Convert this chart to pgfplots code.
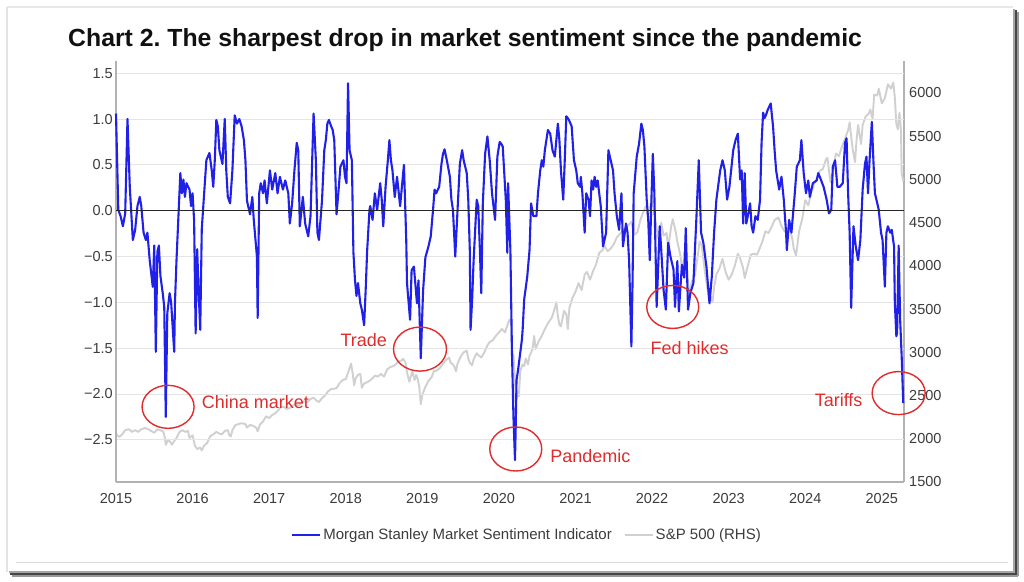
\documentclass[border=0pt]{standalone}
\usepackage{pgfplots}
\pgfplotsset{compat=1.18}
\usepackage{pgfplotstable}
\usepackage{fontspec}
\setmainfont{Liberation Sans}
\frenchspacing

\definecolor{msblue}{RGB}{32,32,232}
\definecolor{spgray}{RGB}{208,208,208}
\definecolor{gridcol}{RGB}{228,228,228}
\definecolor{axiscol}{RGB}{178,178,178}
\definecolor{tickcol}{RGB}{60,60,60}
\definecolor{legcol}{RGB}{60,60,60}
\definecolor{annot}{RGB}{224,44,44}
\definecolor{titlecol}{RGB}{17,17,17}

\newcommand\tickfont{\fontsize{14.5}{16}\selectfont}

% Morgan Stanley Market Sentiment Indicator (left axis)
\pgfplotstableread{
t v
2015.00 1.06
2015.03 0.01
2015.06 -0.06
2015.09 -0.17
2015.12 -0.03
2015.15 1.00
2015.18 0.26
2015.22 -0.32
2015.25 -0.21
2015.28 0.05
2015.31 0.15
2015.33 0.05
2015.36 -0.24
2015.39 -0.32
2015.41 -0.24
2015.44 -0.54
2015.48 -0.83
2015.50 -0.38
2015.52 -1.54
2015.54 -0.45
2015.56 -0.38
2015.58 -0.71
2015.61 -0.90
2015.63 -1.05
2015.65 -2.25
2015.67 -1.12
2015.70 -0.90
2015.72 -1.00
2015.76 -1.54
2015.77 -1.00
2015.79 -0.54
2015.84 0.41
2015.86 0.19
2015.88 0.34
2015.90 0.15
2015.92 0.30
2015.96 0.23
2015.98 0.05
2016.00 0.19
2016.02 -0.11
2016.04 -1.34
2016.06 -0.42
2016.08 -0.90
2016.10 -1.30
2016.12 -0.20
2016.18 0.55
2016.22 0.63
2016.25 0.44
2016.27 0.26
2016.29 0.55
2016.31 0.99
2016.33 0.92
2016.35 0.66
2016.39 0.51
2016.42 1.00
2016.44 0.44
2016.46 0.15
2016.49 0.08
2016.52 0.44
2016.55 1.04
2016.58 0.95
2016.61 1.00
2016.64 0.92
2016.67 0.77
2016.69 0.55
2016.71 0.11
2016.75 -0.04
2016.78 0.15
2016.80 -0.11
2016.84 -0.50
2016.85 -1.17
2016.87 0.19
2016.89 0.30
2016.92 0.19
2016.94 0.33
2016.97 0.08
2017.01 0.44
2017.04 0.23
2017.08 0.41
2017.11 0.19
2017.14 0.37
2017.18 0.23
2017.21 0.33
2017.25 0.19
2017.27 -0.14
2017.30 0.08
2017.33 0.44
2017.36 0.74
2017.38 0.66
2017.40 -0.17
2017.44 0.15
2017.47 -0.14
2017.51 -0.28
2017.54 -0.06
2017.58 1.06
2017.61 0.55
2017.63 -0.24
2017.65 -0.32
2017.69 0.11
2017.72 0.66
2017.74 0.77
2017.76 0.95
2017.78 0.99
2017.81 0.92
2017.83 0.88
2017.85 0.77
2017.88 -0.04
2017.91 0.26
2017.93 0.48
2017.97 0.55
2017.99 0.37
2018.01 0.30
2018.03 1.39
2018.05 0.66
2018.08 0.55
2018.10 -0.45
2018.12 -0.75
2018.14 -0.93
2018.16 -0.79
2018.19 -1.01
2018.21 -1.08
2018.24 -1.25
2018.26 -0.87
2018.28 -0.43
2018.31 0.01
2018.32 0.05
2018.35 -0.10
2018.38 0.19
2018.41 0.01
2018.45 0.30
2018.47 0.12
2018.49 -0.17
2018.52 0.26
2018.55 0.55
2018.57 0.77
2018.59 0.55
2018.61 0.44
2018.64 0.15
2018.67 0.37
2018.71 0.05
2018.73 0.23
2018.76 0.50
2018.79 -0.32
2018.80 -0.79
2018.84 -1.19
2018.86 -0.65
2018.89 -0.61
2018.93 -1.01
2018.95 -0.76
2018.98 -1.61
2019.01 -0.87
2019.04 -0.51
2019.08 -0.39
2019.11 -0.28
2019.14 0.01
2019.16 0.23
2019.18 0.19
2019.22 0.26
2019.25 0.51
2019.27 0.62
2019.29 0.67
2019.32 0.55
2019.36 0.37
2019.38 0.12
2019.40 0.01
2019.43 -0.50
2019.46 0.01
2019.49 0.51
2019.52 0.66
2019.54 0.55
2019.58 0.41
2019.60 0.12
2019.62 -0.43
2019.63 -1.30
2019.65 -0.98
2019.67 -0.54
2019.71 0.12
2019.73 0.05
2019.75 -0.39
2019.77 -0.90
2019.79 0.08
2019.82 0.62
2019.85 0.81
2019.88 0.55
2019.91 0.19
2019.95 -0.10
2019.98 0.59
2020.01 0.75
2020.03 0.73
2020.05 0.70
2020.09 0.12
2020.11 -0.46
2020.12 0.30
2020.15 -0.43
2020.17 -1.52
2020.19 -2.25
2020.21 -2.72
2020.22 -2.35
2020.23 -1.85
2020.25 -1.74
2020.30 -1.41
2020.31 -1.30
2020.33 -0.97
2020.37 -0.72
2020.40 -0.43
2020.42 0.08
2020.45 -0.06
2020.49 -0.06
2020.51 0.19
2020.54 0.44
2020.56 0.55
2020.58 0.48
2020.60 0.66
2020.62 0.77
2020.64 0.88
2020.67 0.84
2020.70 0.66
2020.73 0.59
2020.75 0.77
2020.77 0.95
2020.79 0.77
2020.81 0.44
2020.84 0.12
2020.86 0.55
2020.88 1.03
2020.90 1.01
2020.92 0.98
2020.95 0.92
2020.98 0.55
2021.01 0.44
2021.03 0.30
2021.06 0.26
2021.07 0.37
2021.09 0.19
2021.12 -0.24
2021.14 0.19
2021.17 0.12
2021.19 -0.06
2021.21 0.33
2021.23 0.23
2021.25 0.37
2021.27 0.26
2021.29 0.33
2021.33 0.05
2021.36 -0.39
2021.40 -0.24
2021.43 0.66
2021.46 0.55
2021.49 0.44
2021.51 0.19
2021.54 -0.06
2021.57 -0.21
2021.60 0.19
2021.62 -0.39
2021.66 -0.14
2021.68 -0.24
2021.70 -0.54
2021.73 -1.48
2021.745 -0.79
2021.76 0.19
2021.80 0.59
2021.83 0.73
2021.86 0.95
2021.88 0.88
2021.90 0.70
2021.93 0.12
2021.95 -0.10
2021.97 -0.54
2021.99 0.08
2022.01 0.62
2022.03 0.19
2022.06 -1.05
2022.10 -0.17
2022.12 -0.43
2022.15 -0.86
2022.18 -1.08
2022.21 -0.35
2022.24 -0.50
2022.28 -0.64
2022.30 -1.05
2022.33 -0.55
2022.35 -1.10
2022.39 -0.59
2022.42 -0.73
2022.44 -0.19
2022.47 -1.08
2022.50 -0.90
2022.54 -0.79
2022.58 -0.06
2022.61 0.55
2022.64 -0.24
2022.67 -0.35
2022.71 -0.61
2022.75 -1.01
2022.78 -0.72
2022.81 -0.24
2022.84 0.12
2022.89 0.44
2022.92 0.55
2022.95 0.44
2022.98 0.12
2023.01 0.26
2023.06 0.66
2023.09 0.77
2023.12 0.84
2023.15 0.34
2023.17 0.44
2023.19 -0.14
2023.21 0.41
2023.23 -0.14
2023.25 -0.06
2023.28 0.08
2023.30 -0.17
2023.32 -0.24
2023.35 -0.06
2023.38 -0.10
2023.41 0.12
2023.43 0.74
2023.45 1.07
2023.47 1.01
2023.49 1.05
2023.51 1.10
2023.55 1.17
2023.56 1.08
2023.58 0.92
2023.60 0.66
2023.62 0.44
2023.66 0.23
2023.69 0.37
2023.72 0.12
2023.75 -0.24
2023.76 -0.43
2023.79 -0.10
2023.82 -0.24
2023.86 0.15
2023.89 0.48
2023.93 0.55
2023.95 0.77
2023.98 0.41
2024.01 0.19
2024.04 0.33
2024.06 0.15
2024.10 0.30
2024.15 0.33
2024.17 0.41
2024.19 0.37
2024.24 0.26
2024.28 0.12
2024.31 -0.03
2024.34 0.01
2024.36 0.48
2024.39 0.55
2024.42 0.26
2024.45 0.26
2024.49 0.30
2024.52 0.74
2024.54 0.79
2024.56 0.19
2024.58 -0.24
2024.60 -1.06
2024.63 -0.17
2024.66 -0.39
2024.69 -0.54
2024.72 -0.32
2024.75 0.23
2024.78 0.51
2024.80 0.59
2024.82 0.19
2024.84 0.55
2024.87 0.97
2024.89 0.55
2024.91 0.19
2024.93 0.12
2024.96 0.01
2024.99 -0.24
2025.01 -0.32
2025.04 -0.83
2025.06 -0.24
2025.08 -0.17
2025.11 -0.24
2025.13 -0.21
2025.16 -0.39
2025.17 -1.00
2025.19 -1.37
2025.20 -1.33
2025.22 -0.38
2025.24 -1.20
2025.26 -1.60
2025.28 -2.10
}\sentiment

% S&P 500 index level (right axis)
\pgfplotstableread{
t p
2015.00 2058
2015.04 2020
2015.08 2050
2015.12 2100
2015.17 2110
2015.21 2080
2015.25 2100
2015.29 2080
2015.33 2110
2015.38 2125
2015.42 2110
2015.46 2090
2015.50 2070
2015.54 2110
2015.58 2100
2015.62 2080
2015.64 2000
2015.65 1930
2015.68 1990
2015.71 1960
2015.73 1930
2015.75 1960
2015.79 2010
2015.83 2080
2015.87 2100
2015.90 2080
2015.94 2090
2015.96 2010
2016.00 2040
2016.03 1920
2016.06 1880
2016.10 1900
2016.12 1865
2016.15 1920
2016.19 1950
2016.23 2030
2016.27 2050
2016.31 2080
2016.35 2060
2016.38 2050
2016.42 2090
2016.46 2100
2016.48 2040
2016.50 2030
2016.52 2100
2016.56 2160
2016.60 2170
2016.64 2180
2016.69 2170
2016.71 2130
2016.75 2160
2016.79 2150
2016.83 2130
2016.85 2085
2016.88 2165
2016.92 2200
2016.96 2260
2017.00 2240
2017.04 2275
2017.08 2295
2017.12 2330
2017.15 2365
2017.19 2370
2017.23 2345
2017.27 2355
2017.31 2385
2017.35 2400
2017.38 2380
2017.42 2415
2017.46 2435
2017.50 2425
2017.54 2460
2017.58 2475
2017.62 2440
2017.65 2425
2017.69 2470
2017.73 2500
2017.77 2550
2017.81 2575
2017.85 2580
2017.88 2585
2017.92 2645
2017.96 2680
2018.00 2690
2018.04 2790
2018.07 2870
2018.09 2760
2018.11 2620
2018.13 2700
2018.16 2740
2018.19 2750
2018.21 2590
2018.24 2640
2018.27 2650
2018.31 2670
2018.35 2700
2018.38 2730
2018.42 2720
2018.46 2750
2018.50 2720
2018.54 2800
2018.58 2830
2018.62 2840
2018.65 2860
2018.69 2900
2018.73 2905
2018.75 2925
2018.78 2880
2018.80 2770
2018.83 2660
2018.85 2720
2018.87 2780
2018.90 2680
2018.92 2740
2018.94 2690
2018.96 2600
2018.98 2400
2019.00 2510
2019.04 2600
2019.08 2670
2019.12 2710
2019.15 2780
2019.19 2790
2019.23 2820
2019.27 2870
2019.31 2910
2019.35 2940
2019.37 2880
2019.40 2860
2019.42 2830
2019.44 2780
2019.46 2870
2019.50 2950
2019.54 3000
2019.58 3020
2019.60 2930
2019.62 2880
2019.65 2850
2019.67 2920
2019.71 2990
2019.73 2970
2019.77 2940
2019.81 3000
2019.85 3080
2019.88 3120
2019.92 3140
2019.96 3190
2020.00 3230
2020.04 3270
2020.08 3230
2020.12 3340
2020.14 3380
2020.16 3340
2020.17 2950
2020.19 2970
2020.21 2700
2020.22 2400
2020.24 2550
2020.26 2490
2020.28 2790
2020.31 2860
2020.33 2840
2020.35 2930
2020.38 2860
2020.40 2960
2020.44 3040
2020.46 3190
2020.48 3040
2020.52 3130
2020.56 3190
2020.60 3270
2020.65 3350
2020.69 3400
2020.73 3510
2020.75 3580
2020.77 3420
2020.79 3320
2020.81 3300
2020.85 3480
2020.88 3440
2020.90 3270
2020.92 3510
2020.96 3630
2021.00 3700
2021.04 3800
2021.08 3720
2021.12 3900
2021.15 3930
2021.19 3840
2021.23 3940
2021.27 4020
2021.31 4150
2021.35 4180
2021.38 4230
2021.42 4170
2021.46 4200
2021.50 4250
2021.54 4330
2021.58 4370
2021.62 4400
2021.65 4440
2021.69 4470
2021.73 4510
2021.75 4430
2021.77 4360
2021.81 4390
2021.85 4540
2021.88 4610
2021.92 4690
2021.94 4590
2021.96 4620
2022.00 4770
2022.02 4680
2022.06 4430
2022.08 4330
2022.12 4500
2022.15 4350
2022.19 4380
2022.21 4200
2022.25 4460
2022.27 4540
2022.31 4390
2022.33 4280
2022.37 4120
2022.40 3900
2022.42 4150
2022.44 4100
2022.46 3900
2022.48 3670
2022.52 3820
2022.56 3900
2022.60 4140
2022.62 4280
2022.65 4230
2022.69 3930
2022.73 3690
2022.75 3580
2022.77 3640
2022.79 3580
2022.81 3750
2022.84 3900
2022.88 3970
2022.90 4030
2022.92 4080
2022.96 3930
2023.00 3840
2023.04 3900
2023.08 4000
2023.12 4140
2023.15 4090
2023.19 3970
2023.21 3860
2023.25 4000
2023.29 4130
2023.33 4140
2023.37 4130
2023.40 4190
2023.44 4280
2023.48 4400
2023.52 4380
2023.56 4450
2023.60 4530
2023.65 4560
2023.69 4460
2023.73 4400
2023.77 4380
2023.79 4460
2023.83 4320
2023.85 4200
2023.88 4120
2023.92 4400
2023.96 4540
2024.00 4760
2024.04 4700
2024.08 4850
2024.12 4960
2024.15 5010
2024.19 5100
2024.23 5120
2024.27 5230
2024.29 5250
2024.31 5100
2024.33 4970
2024.37 5120
2024.40 5300
2024.44 5270
2024.48 5380
2024.52 5470
2024.56 5570
2024.58 5660
2024.60 5500
2024.62 5350
2024.65 5200
2024.67 5450
2024.69 5630
2024.73 5410
2024.75 5630
2024.79 5730
2024.83 5760
2024.85 5810
2024.88 5700
2024.90 5980
2024.94 5970
2024.96 6050
2025.00 5880
2025.04 5940
2025.08 6100
2025.12 6050
2025.15 6120
2025.17 5950
2025.19 5640
2025.21 5580
2025.23 5770
2025.25 5580
2025.26 5070
2025.28 4980
}\spx

\begin{document}
\begin{tikzpicture}
\useasboundingbox (0,0) rectangle (1024pt,581pt);
\fill[white] (0,0) rectangle (1024pt,581pt);

% card frame with shadow, drawn in a top-down pixel grid
\begin{scope}[x=1pt,y=-1pt,yshift=581pt]
  \draw[black!9, line width=1.5pt] (7,7) -- (1013,7);
  \draw[black!11, line width=1.5pt] (7,7) -- (7,572);
  \draw[black!14, line width=1pt] (16,562.5) -- (1008,562.5);
  \draw[black!35, line width=1.5pt] (1014,9) -- (1014,573);
  \draw[black!72, line width=2pt] (1016,10) -- (1016,574);
  \draw[black!40, line width=1.5pt] (1018,12) -- (1018,576);
  \draw[black!35, line width=1.5pt] (9,572) -- (1014,572);
  \draw[black!72, line width=2pt] (10,574) -- (1017,574);
  \draw[black!40, line width=1.5pt] (12,576) -- (1018,576);
  \node[anchor=base west, inner sep=0pt, text=titlecol,
        font=\bfseries\fontsize{24.8}{28}\selectfont] at (68,47)
        {Chart 2. The sharpest drop in market sentiment since the pandemic};
\end{scope}

% S&P 500 on the right-hand scale
\begin{axis}[
  at={(116pt,99pt)}, anchor=south west,
  scale only axis, width=788pt, height=421pt,
  xmin=2015, xmax=2025.29, ymin=1500, ymax=6370,
  axis x line=none, axis y line*=right,
  axis line style={draw=axiscol, line width=1.3pt, -},
  major tick length=0pt,
  ytick={1500,2000,2500,3000,3500,4000,4500,5000,5500,6000},
  yticklabels={1500,2000,2500,3000,3500,4000,4500,5000,5500,6000},
  yticklabel style={font=\tickfont, text=tickcol, inner sep=0pt, anchor=west, xshift=5pt},
]
\addplot[spgray, line width=1.9pt, line join=round] table[x=t, y=p] {\spx};
\end{axis}

% Sentiment indicator on the left-hand scale
\begin{axis}[
  at={(116pt,99pt)}, anchor=south west,
  scale only axis, width=788pt, height=421pt,
  xmin=2015, xmax=2025.29, ymin=-2.96, ymax=1.633,
  clip=false,
  axis y line*=left, axis x line*=bottom,
  axis line style={draw=axiscol, line width=1.3pt, -},
  major tick length=0pt,
  ymajorgrids, grid style={gridcol, line width=1pt},
  ytick={-2.5,-2,-1.5,-1,-0.5,0,0.5,1,1.5},
  yticklabels={−2.5,−2.0,−1.5,−1.0,−0.5,0.0,0.5,1.0,1.5},
  yticklabel style={font=\tickfont, text=tickcol, inner sep=0pt, anchor=east, xshift=-3pt},
  xtick={2015,2016,2017,2018,2019,2020,2021,2022,2023,2024,2025},
  xticklabels={2015,2016,2017,2018,2019,2020,2021,2022,2023,2024,2025},
  xticklabel style={font=\tickfont, text=tickcol, inner sep=0pt, anchor=north, yshift=-11pt},
  legend columns=2,
  legend style={at={(0.5216,-0.1259)}, anchor=center, draw=none, fill=none,
    font=\fontsize{15}{17}\selectfont, text=legcol,
    /tikz/every even column/.append style={column sep=10pt}},
  legend image code/.code={\draw[#1] (0pt,0pt) -- (28pt,0pt);},
]
\addplot[msblue, line width=2.1pt, line join=round] table[x=t, y=v] {\sentiment};
\addlegendentry{Morgan Stanley Market Sentiment Indicator}
\addlegendimage{spgray, line width=1.9pt}
\addlegendentry{S\&P 500 (RHS)}

\draw[black!85, line width=1.5pt] (axis cs:2015,0) -- (axis cs:2025.29,0);

% event annotations
\begin{scope}[annot, line width=1.4pt]
  \draw (axis cs:2015.68,-2.14) ellipse [x radius=26pt, y radius=21.5pt];
  \draw (axis cs:2018.97,-1.51) ellipse [x radius=26.5pt, y radius=22pt];
  \draw (axis cs:2020.22,-2.60) ellipse [x radius=26pt, y radius=22pt];
  \draw (axis cs:2022.27,-1.05) ellipse [x radius=26pt, y radius=21.5pt];
  \draw (axis cs:2025.22,-1.99) ellipse [x radius=26.5pt, y radius=21.5pt];
\end{scope}
\begin{scope}[every node/.style={text=annot, inner sep=0pt, font=\fontsize{18}{20}\selectfont}]
  \node[anchor=west] at (axis cs:2016.12,-2.09) {China market};
  \node[anchor=east] at (axis cs:2018.54,-1.41) {Trade};
  \node[anchor=west] at (axis cs:2020.67,-2.68) {Pandemic};
  \node[anchor=center] at (axis cs:2022.49,-1.50) {Fed hikes};
  \node[anchor=east] at (axis cs:2024.75,-2.07) {Tariffs};
\end{scope}
\end{axis}
\end{tikzpicture}
\end{document}
